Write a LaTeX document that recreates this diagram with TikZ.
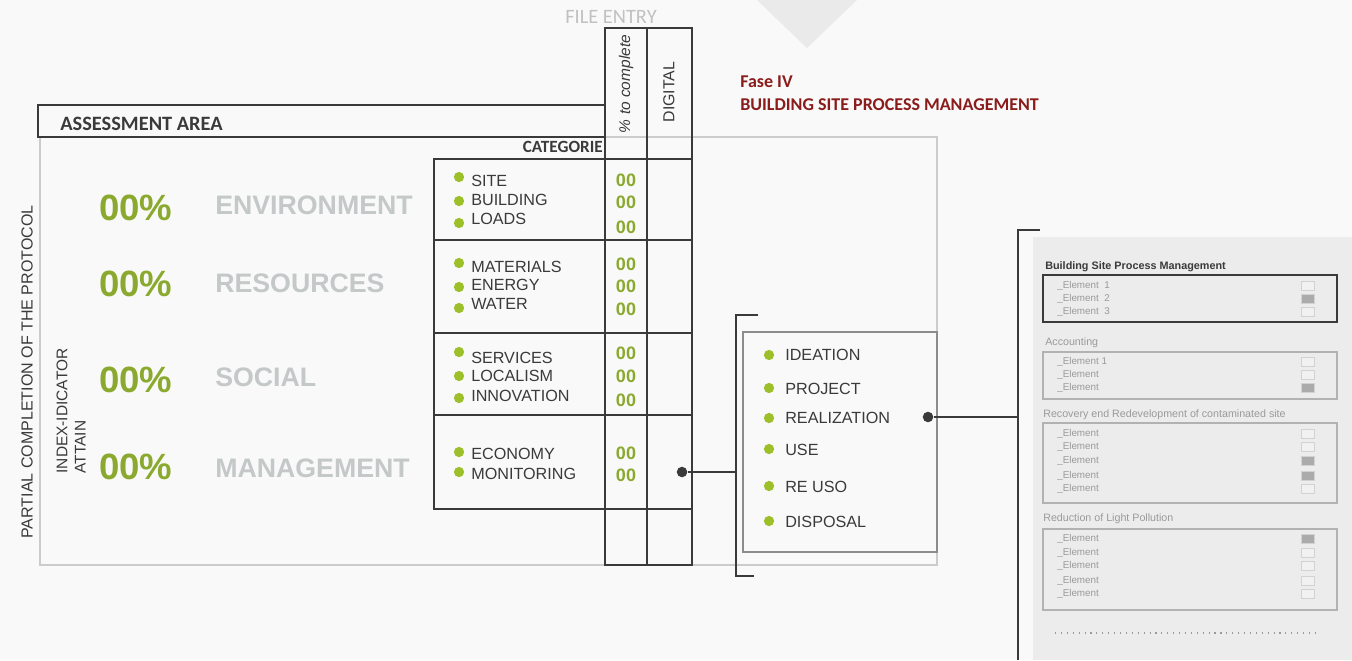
\documentclass[tikz,border=0pt]{standalone}
\usepackage{fontspec}
\setmainfont{Liberation Sans}
\newfontfamily\headfont{Carlito}
\usetikzlibrary{positioning}
\definecolor{paper}{HTML}{F9F9F9}
\definecolor{ink}{HTML}{3A3A3A}
\definecolor{leaf}{HTML}{9CBF2A}
\definecolor{olive}{HTML}{8AA92E}
\definecolor{pale}{HTML}{C4C8C8}
\definecolor{rim}{HTML}{CCCCCC}
\definecolor{wine}{HTML}{8A1C1C}
\definecolor{panel}{HTML}{ECECEC}
\definecolor{faint}{HTML}{9A9A9A}
\definecolor{shade}{HTML}{B2B2B2}
\definecolor{boxoff}{HTML}{F1F1F1}
\definecolor{boxon}{HTML}{ABABAB}
\definecolor{boxrim}{HTML}{D2D2D2}
\definecolor{wedge}{HTML}{EAEAEA}
\definecolor{mid}{HTML}{8C8C8C}

\begin{document}
\begin{tikzpicture}[x=0.025cm, y=-0.025cm,
  frame/.style={draw=rim, line width=1.1pt},
  rule/.style={draw=ink, line width=1pt},
  pct/.style={anchor=west, inner sep=0pt, font=\fontsize{26}{28}\selectfont\bfseries, text=olive},
  area/.style={anchor=west, inner sep=0pt, font=\fontsize{19}{21}\selectfont\bfseries, text=pale},
  dotb/.style={circle, fill=leaf, inner sep=0pt, minimum size=7.3pt},
  item/.style={anchor=west, inner sep=0pt, font=\fontsize{11.5}{12}\selectfont, text=ink},
  score/.style={inner sep=0pt, font=\fontsize{12.8}{13}\selectfont\bfseries, text=olive},
  knob/.style={circle, fill=ink, inner sep=0pt, minimum size=7.5pt},
  wire/.style={draw=ink, line width=0.9pt},
  elt/.style={anchor=west, inner sep=0pt, font=\fontsize{7}{8}\selectfont, text=faint},
  sub/.style={anchor=west, inner sep=0pt, font=\fontsize{7.6}{8}\selectfont, text=faint},
  chk/.style={draw=boxrim, fill=#1, line width=0.5pt, inner sep=0pt, minimum width=9pt, minimum height=6.6pt},
  group/.style={draw=shade, line width=0.9pt}]

% canvas
\useasboundingbox[fill=paper] (0,0) rectangle (1352,660);
\fill[wedge] (757,0) -- (857,0) -- (807,48) -- cycle;

% assessment frame and file entry columns
\draw[frame] (40,137) rectangle (937,565);
\draw[rule] (38,105) rectangle (605,137);
\node[anchor=west, inner sep=0pt, font=\headfont\bfseries\fontsize{14.5}{15}\selectfont, text=ink] (hdr) at (60,124) {ASSESSMENT AREA};
\draw[rule] (605,28) rectangle (692,565);
\draw[rule] (647,28) -- (647,565);
\node[font=\headfont\fontsize{14.5}{15}\selectfont, text=shade!80] (entry) at (611,17) {FILE ENTRY};
\node[rotate=90, inner sep=0pt, font=\fontsize{11}{12}\selectfont\itshape, text=ink] (ptc) at (626,84) {\% to complete};
\node[rotate=90, inner sep=0pt, font=\fontsize{11.3}{12}\selectfont, text=ink] (dig) at (669,92) {DIGITAL};
\node[anchor=east, inner sep=0pt, font=\headfont\bfseries\fontsize{12.2}{13}\selectfont, text=ink] (cat) at (603,147) {CATEGORIE};

% phase title
\node[anchor=west, inner sep=0pt, font=\headfont\bfseries\fontsize{12.8}{13}\selectfont, text=wine] (fase) at (740,82) {Fase IV};
\node[anchor=west, inner sep=0pt, font=\headfont\bfseries\fontsize{12.8}{13}\selectfont, text=wine] (bspm) at (740,105) {BUILDING SITE PROCESS MANAGEMENT};

% side labels
\node[rotate=90, inner sep=0pt, font=\fontsize{11.4}{12}\selectfont, text=ink] (proto) at (27,372) {PARTIAL COMPLETION OF THE PROTOCOL};
\node[rotate=90, inner sep=0pt, align=left, font=\fontsize{11}{13}\selectfont, text=ink] (index) at (71,411) {INDEX-IDICATOR\\ATTAIN};

% areas
\node[pct] (p1) at (99,208) {00\%};
\node[pct] (p2) at (99,284) {00\%};
\node[pct] (p3) at (99,380) {00\%};
\node[pct] (p4) at (99,467) {00\%};
\node[area] (env) at (215,205) {ENVIRONMENT};
\node[area] (res) at (215,283) {RESOURCES};
\node[area] (soc) at (215,377) {SOCIAL};
\node[area] (man) at (215,468) {MANAGEMENT};

% categories table
\draw[rule] (434,159) rectangle (692,509);
\draw[rule] (434,240) -- (692,240);
\draw[rule] (434,333) -- (692,333);
\draw[rule] (434,415) -- (692,415);

\node[dotb] (d1) at (459,177) {};  \node[item] (site) at (471,181) {SITE};
\node[dotb] (d2) at (459,201) {};  \node[item] (bldg) at (471,199.5) {BUILDING};
\node[dotb] (d3) at (459,223) {};  \node[item] (load) at (471,219) {LOADS};
\node[dotb] (d4) at (459,263) {};  \node[item] (matr) at (471,266.5) {MATERIALS};
\node[dotb] (d5) at (459,287) {};  \node[item] (enrg) at (471,285) {ENERGY};
\node[dotb] (d6) at (459,308) {};  \node[item] (watr) at (471,303.5) {WATER};
\node[dotb] (d7) at (459,352) {};  \node[item] (serv) at (471,358) {SERVICES};
\node[dotb] (d8) at (459,376) {};  \node[item] (locl) at (471,376) {LOCALISM};
\node[dotb] (d9) at (459,398) {};  \node[item] (innv) at (471,395.5) {INNOVATION};
\node[dotb] (d10) at (459,452) {}; \node[item] (econ) at (471,454) {ECONOMY};
\node[dotb] (d11) at (459,472) {}; \node[item] (moni) at (471,473.5) {MONITORING};

\node[score] (n1) at (626,180) {00};
\node[score] (n2) at (626,202) {00};
\node[score] (n3) at (626,227) {00};
\node[score] (n4) at (626,264) {00};
\node[score] (n5) at (626,286.5) {00};
\node[score] (n6) at (626,309.5) {00};
\node[score] (n7) at (626,353.5) {00};
\node[score] (n8) at (626,376) {00};
\node[score] (n9) at (626,400.5) {00};
\node[score] (n10) at (626,453.5) {00};
\node[score] (n11) at (626,475.5) {00};

% phases
\draw[rule] (758,315) -- (736,315) -- (736,576) -- (754,576);
\draw[draw=mid, line width=1pt] (743,332) rectangle (937,552);
\node[knob] (k1) at (682,472) {};
\coordinate (b1) at (736,472);
\draw[wire] (k1) -- (b1);

\node[dotb] (f1) at (769,355) {}; \node[item] (idea) at (785,355) {IDEATION};
\node[dotb] (f2) at (769,388) {}; \node[item] (proj) at (785,389) {PROJECT};
\node[dotb] (f3) at (769,418) {}; \node[item] (real) at (785,418) {REALIZATION};
\node[dotb] (f4) at (769,449) {}; \node[item] (use) at (785,450) {USE};
\node[dotb] (f5) at (769,486) {}; \node[item] (reuso) at (785,487) {RE USO};
\node[dotb] (f6) at (769,521) {}; \node[item] (disp) at (785,522) {DISPOSAL};

% checklist panel
\draw[rule] (1040,230) -- (1018,230) -- (1018,660);
\fill[panel] (1033,237) rectangle (1352,660);
\node[knob] (k2) at (928,417) {};
\coordinate (b2) at (1018,417);
\draw[wire] (k2) -- (b2);

\node[anchor=west, inner sep=0pt, font=\fontsize{7.7}{8}\selectfont\bfseries, text=ink] (bsp) at (1045,267) {Building Site Process Management};
\draw[draw=ink, line width=1.1pt] (1043,275) rectangle (1337,322);
\foreach \y/\t/\f in {286/{\_Element\ \ 1}/boxoff, 299/{\_Element\ \ 2}/boxon, 312/{\_Element\ \ 3}/boxoff}
  {\node[elt] (ea\y) at (1057,\y) {\t};
   \node[chk=\f] (ca\y) at (1308,\y) {};}

\node[sub] (acc) at (1045,343) {Accounting};
\draw[group] (1043,352) rectangle (1337,399);
\foreach \y/\t/\f in {362/{\_Element 1}/boxoff, 375/\_Element/boxoff, 388/\_Element/boxon}
  {\node[elt] (eb\y) at (1057,\y) {\t};
   \node[chk=\f] (cb\y) at (1308,\y) {};}

\node[sub] (rec) at (1043,415) {Recovery end Redevelopment of contaminated site};
\draw[group] (1043,423) rectangle (1337,503);
\foreach \y/\f in {434/boxoff, 447/boxoff, 461/boxon, 476/boxon, 489/boxoff}
  {\node[elt] (ec\y) at (1057,\y) {\_Element};
   \node[chk=\f] (cc\y) at (1308,\y) {};}

\node[sub] (lp) at (1043,519) {Reduction of Light Pollution};
\draw[group] (1043,529) rectangle (1337,610);
\foreach \y/\f in {539/boxon, 553/boxoff, 566/boxoff, 581/boxoff, 594/boxoff}
  {\node[elt] (ed\y) at (1057,\y) {\_Element};
   \node[chk=\f] (cd\y) at (1308,\y) {};}

\draw[faint, line width=0.8pt, dash pattern=on 0.8pt off 3.4pt] (1055,633) -- (1318,633);
\end{tikzpicture}
\end{document}
